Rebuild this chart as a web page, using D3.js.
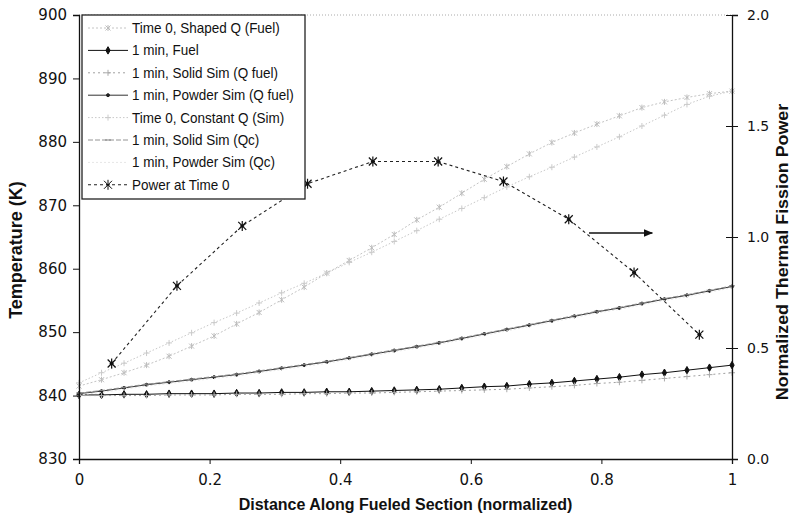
<!DOCTYPE html>
<html>
<head>
<meta charset="utf-8">
<script src="https://cdn.jsdelivr.net/npm/d3@7/dist/d3.min.js"></script>
<style>
  body { margin: 0; background: #fff; }
  svg { display: block; }
  text { font-family: "Liberation Sans", Arial, sans-serif; fill: #111; }
</style>
</head>
<body>
<div id="chart"></div>
<script>
// x positions: 30 stations along the fueled section, plus the 10 power points
var stations = d3.range(30).map(function (i) { return i / 29; });
var powerX = [0.05, 0.15, 0.25, 0.35, 0.45, 0.55, 0.65, 0.75, 0.85, 0.95];

// temperatures (K)
var shapedQ = [841.5, 842.5, 843.6, 844.8, 846.2, 847.8, 849.4, 851.3, 853.1, 855.1,
  857.1, 859.3, 861.3, 863.3, 865.4, 867.7, 869.7, 871.9, 874.1, 876.1,
  878.1, 879.9, 881.4, 882.8, 884.1, 885.4, 886.3, 887.0, 887.6, 888.0];
var fuel1min = [840.1, 840.1, 840.2, 840.2, 840.3, 840.3, 840.3, 840.4, 840.4, 840.5,
  840.5, 840.6, 840.6, 840.7, 840.8, 840.9, 841.0, 841.2, 841.4, 841.5,
  841.8, 842.0, 842.3, 842.6, 842.9, 843.3, 843.6, 844.0, 844.4, 844.8];
var solidQfuel = [840.0, 840.0, 840.0, 840.0, 840.1, 840.1, 840.1, 840.2, 840.2, 840.2,
  840.3, 840.3, 840.4, 840.4, 840.5, 840.6, 840.7, 840.8, 840.9, 841.0,
  841.2, 841.4, 841.6, 841.9, 842.1, 842.4, 842.7, 843.0, 843.3, 843.6];
var powderQfuel = [840.3, 840.7, 841.2, 841.7, 842.1, 842.5, 842.9, 843.3, 843.8, 844.3,
  844.8, 845.3, 845.9, 846.5, 847.1, 847.7, 848.3, 849.0, 849.7, 850.4,
  851.1, 851.8, 852.5, 853.2, 853.8, 854.5, 855.2, 855.8, 856.5, 857.2];
var constantQ = [842.0, 843.6, 845.1, 846.7, 848.3, 849.9, 851.5, 853.0, 854.6, 856.2,
  857.7, 859.3, 861.0, 862.6, 864.3, 866.0, 867.8, 869.5, 871.2, 872.9,
  874.5, 876.0, 877.6, 879.2, 880.8, 882.5, 884.2, 885.9, 887.2, 888.0];
var solidQc = [840.4, 840.8, 841.3, 841.8, 842.2, 842.6, 843.0, 843.4, 843.9, 844.4,
  844.9, 845.4, 846.0, 846.6, 847.2, 847.8, 848.4, 849.1, 849.8, 850.5,
  851.2, 851.9, 852.6, 853.3, 853.9, 854.6, 855.3, 855.9, 856.6, 857.3];
var powderQc = [840.1, 840.5, 841.0, 841.5, 841.9, 842.3, 842.7, 843.1, 843.6, 844.1,
  844.6, 845.1, 845.7, 846.3, 846.9, 847.5, 848.1, 848.8, 849.5, 850.2,
  850.9, 851.6, 852.3, 853.0, 853.6, 854.3, 855.0, 855.6, 856.3, 857.0];
// normalized power (right axis)
var powerT0 = [0.43, 0.78, 1.05, 1.24, 1.34, 1.34, 1.25, 1.08, 0.84, 0.56];

var xTicks = [0, 0.2, 0.4, 0.6, 0.8, 1];
var yTicks = [830, 840, 850, 860, 870, 880, 890, 900];
var y2Ticks = [0, 0.5, 1.0, 1.5, 2.0];

var W = 794, H = 524;
var plotL = 79, plotR = 732, plotT = 15, plotB = 459;

var svg = d3.select("#chart").append("svg").attr("width", W).attr("height", H);

var x = d3.scaleLinear().domain([0, 1]).range([plotL, plotR]);
var y = d3.scaleLinear().domain([830, 900]).range([plotB, plotT]);
var y2 = d3.scaleLinear().domain([0, 2]).range([plotB, plotT]);

// marker paths
var mk = {
  none: null,
  diamond: d3.symbol().type(d3.symbolDiamond).size(16)(),
  dot: d3.symbol().type(d3.symbolCircle).size(7)(),
  cross: "M-2.5,-2.5L2.5,2.5M-2.5,2.5L2.5,-2.5M0,-3L0,3",
  plus: "M-3,0L3,0M0,-3L0,3",
  dash: "M-3,0L3,0",
  star: "M-4,-4L4,4M-4,4L4,-4M0,-5L0,5M-2,0L2,0"
};

var series = [
  { name: "Time 0, Shaped Q (Fuel)", xs: stations, vals: shapedQ, axis: y, color: "#c4c4c4", dash: "2,2", width: 1, marker: "cross", mColor: "#bcbcbc" },
  { name: "1 min, Fuel", xs: stations, vals: fuel1min, axis: y, color: "#111", dash: null, width: 1, marker: "diamond", mColor: "#111", fill: true },
  { name: "1 min, Solid Sim (Q fuel)", xs: stations, vals: solidQfuel, axis: y, color: "#a0a0a0", dash: "2,3", width: 1, marker: "plus", mColor: "#aaa" },
  { name: "1 min, Powder Sim (Q fuel)", xs: stations, vals: powderQfuel, axis: y, color: "#333", dash: null, width: 1, marker: "dot", mColor: "#222", fill: true },
  { name: "Time 0, Constant Q (Sim)", xs: stations, vals: constantQ, axis: y, color: "#c8c8c8", dash: "1.5,2", width: 1, marker: "plus", mColor: "#cacaca" },
  { name: "1 min, Solid Sim (Qc)", xs: stations, vals: solidQc, axis: y, color: "#888", dash: "5,2", width: 0.9, marker: "dash", mColor: "#808080" },
  { name: "1 min, Powder Sim (Qc)", xs: stations, vals: powderQc, axis: y, color: "#e6e6e6", dash: "2,2", width: 1, marker: "none", mColor: "#eee" },
  { name: "Power at Time 0", xs: powerX, vals: powerT0, axis: y2, color: "#222", dash: "3,3", width: 1.1, marker: "star", mColor: "#111" }
];

// plot frame: dotted top, solid axes
svg.append("line").attr("x1", plotL).attr("x2", plotR).attr("y1", plotT).attr("y2", plotT)
  .attr("stroke", "#aaa").attr("stroke-dasharray", "1,2");

// series
series.forEach(function (s) {
  var pts = s.vals.map(function (v, i) { return [s.xs[i], v]; });
  var line = d3.line().x(function (d) { return x(d[0]); }).y(function (d) { return s.axis(d[1]); });
  svg.append("path").attr("d", line(pts)).attr("fill", "none")
    .attr("stroke", s.color).attr("stroke-width", s.width)
    .attr("stroke-dasharray", s.dash);
  if (mk[s.marker]) {
    svg.append("g").selectAll("path").data(pts).enter().append("path")
      .attr("d", mk[s.marker])
      .attr("transform", function (d) { return "translate(" + x(d[0]) + "," + s.axis(d[1]) + ")"; })
      .attr("fill", s.fill ? s.mColor : "none")
      .attr("stroke", s.mColor).attr("stroke-width", s.marker == "star" ? 1.2 : 1);
  }
});

// arrow pointing to the right axis
svg.append("defs").append("marker").attr("id", "ah").attr("viewBox", "0 0 10 10")
  .attr("refX", 9).attr("refY", 5).attr("markerWidth", 6).attr("markerHeight", 6)
  .attr("orient", "auto").append("path").attr("d", "M0,1L10,5L0,9z").attr("fill", "#111");
svg.append("line").attr("x1", x(0.781)).attr("x2", x(0.878))
  .attr("y1", y2(1.018)).attr("y2", y2(1.018))
  .attr("stroke", "#111").attr("stroke-width", 1.6).attr("marker-end", "url(#ah)");

// axes
var axL = svg.append("g").attr("transform", "translate(" + plotL + ",0)")
  .call(d3.axisLeft(y).tickValues(yTicks).tickSize(6).tickPadding(6).tickFormat(d3.format("d")));
var axR = svg.append("g").attr("transform", "translate(" + plotR + ",0)")
  .call(d3.axisRight(y2).tickValues(y2Ticks).tickSize(6).tickPadding(9).tickFormat(d3.format(".1f")));
axR.selectAll(".tick line").attr("x1", -6);
var axB = svg.append("g").attr("transform", "translate(0," + plotB + ")")
  .call(d3.axisBottom(x).tickValues(xTicks).tickSize(5).tickPadding(10).tickFormat(function (d) { return d === 0 || d === 1 ? d : d.toFixed(1); }));
[axL, axR, axB].forEach(function (a) {
  a.selectAll(".domain").attr("stroke", "#111").attr("stroke-width", 1.3);
  a.selectAll(".tick line").attr("stroke", "#111");
  a.selectAll("text").attr("font-size", 15).attr("fill", "#111")
    .style("font-family", "'DejaVu Sans', sans-serif");
});
axR.selectAll("text").attr("font-size", 14);

// titles
svg.append("text").attr("x", (plotL + plotR) / 2).attr("y", 510).attr("text-anchor", "middle")
  .attr("font-size", 16).attr("font-weight", "bold").text("Distance Along Fueled Section (normalized)");
svg.append("text").attr("transform", "translate(22," + 250 + ") rotate(-90)")
  .attr("text-anchor", "middle").attr("font-size", 18).attr("font-weight", "bold").text("Temperature (K)");
svg.append("text").attr("transform", "translate(788," + 252 + ") rotate(-90) scale(1.05,1)")
  .attr("text-anchor", "middle").attr("font-size", 17).attr("font-weight", "bold").text("Normalized Thermal Fission Power");

// legend
var lg = svg.append("g").attr("transform", "translate(82,15)");
lg.append("rect").attr("width", 223).attr("height", 184).attr("fill", "#fff")
  .attr("stroke", "#222").attr("stroke-width", 1.3);
series.forEach(function (s, i) {
  var ly = 13 + i * 22.4;
  lg.append("line").attr("x1", 6).attr("x2", 46).attr("y1", ly).attr("y2", ly)
    .attr("stroke", s.color).attr("stroke-width", s.width).attr("stroke-dasharray", s.dash);
  if (mk[s.marker]) {
    lg.append("path").attr("d", mk[s.marker]).attr("transform", "translate(26," + ly + ")")
      .attr("fill", s.fill ? s.mColor : "none").attr("stroke", s.mColor);
  }
  lg.append("text").attr("transform", "translate(50," + (ly + 5) + ") scale(0.9,1)")
    .attr("font-size", 15).text(s.name);
});
</script>
</body>
</html>
